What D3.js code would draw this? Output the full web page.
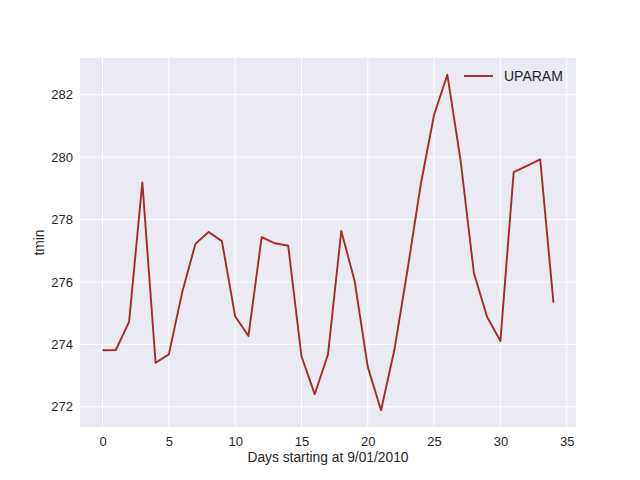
<!DOCTYPE html>
<html>
<head>
<meta charset="utf-8">
<script src="https://cdn.jsdelivr.net/npm/d3@7"></script>
<style>
  body { margin: 0; background: #fff; }
  text { font-family: "Liberation Sans", Arial, sans-serif; fill: #262626; }
</style>
</head>
<body>
<div id="chart"></div>
<script>
// daily tmin values
var days = d3.range(0, 35);
var tmin = [273.81, 273.82, 274.72, 279.19, 273.41, 273.68, 275.66, 277.22, 277.60, 277.31,
            274.90, 274.27, 277.44, 277.24, 277.16, 273.62, 272.40, 273.68, 277.63, 276.05,
            273.28, 271.89, 273.81, 276.40, 279.14, 281.36, 282.64, 279.89, 276.29, 274.88,
            274.11, 279.52, 279.72, 279.93, 275.34];
var xTicks = [0, 5, 10, 15, 20, 25, 30, 35];
var yTicks = [272, 274, 276, 278, 280, 282];
var seriesName = "UPARAM";

var width = 640, height = 480;
var margin = {top: 58, right: 64, bottom: 53, left: 80};
var w = width - margin.left - margin.right;
var h = height - margin.top - margin.bottom;

var svg = d3.select("#chart").append("svg")
  .attr("width", width)
  .attr("height", height);

var g = svg.append("g")
  .attr("transform", "translate(" + margin.left + "," + margin.top + ")");

// matplotlib style 5% margins around the data
var xMin = d3.min(days), xMax = d3.max(days);
var xPad = (xMax - xMin) * 0.05;
var yMin = d3.min(tmin), yMax = d3.max(tmin);
var yPad = (yMax - yMin) * 0.05;

var x = d3.scaleLinear().domain([xMin - xPad, xMax + xPad]).range([0, w]);
var y = d3.scaleLinear().domain([yMin - yPad, yMax + yPad]).range([h, 0]);

g.append("rect")
  .attr("width", w)
  .attr("height", h)
  .attr("fill", "#eaeaf2");

// grid
g.selectAll(".xgrid").data(xTicks).enter().append("line")
  .attr("x1", function(d) { return x(d); })
  .attr("x2", function(d) { return x(d); })
  .attr("y1", 0).attr("y2", h)
  .attr("stroke", "#fff").attr("stroke-width", 1);
g.selectAll(".ygrid").data(yTicks).enter().append("line")
  .attr("y1", function(d) { return y(d); })
  .attr("y2", function(d) { return y(d); })
  .attr("x1", 0).attr("x2", w)
  .attr("stroke", "#fff").attr("stroke-width", 1);

// axes (no spines, just labels)
var xAxis = g.append("g")
  .attr("transform", "translate(0," + h + ")")
  .call(d3.axisBottom(x).tickValues(xTicks).tickSize(0).tickPadding(10));
var yAxis = g.append("g")
  .call(d3.axisLeft(y).tickValues(yTicks).tickSize(0).tickPadding(7));
[xAxis, yAxis].forEach(function(a) {
  a.select(".domain").remove();
  a.selectAll("text")
    .attr("font-size", 13)
    .attr("font-family", "'Liberation Sans', Arial, sans-serif")
    .attr("fill", "#262626");
});

// line
var line = d3.line()
  .x(function(d, i) { return x(days[i]); })
  .y(function(d) { return y(d); });

g.append("path")
  .datum(tmin)
  .attr("d", line)
  .attr("fill", "none")
  .attr("stroke", "#a52a2a")
  .attr("stroke-width", 1.9)
  .attr("stroke-linejoin", "round");

// axis labels
svg.append("text")
  .attr("x", margin.left + w / 2)
  .attr("y", 462)
  .attr("text-anchor", "middle")
  .attr("font-size", 13.8)
  .text("Days starting at 9/01/2010");

svg.append("text")
  .attr("transform", "translate(44," + (margin.top + h / 2) + ") rotate(-90)")
  .attr("text-anchor", "middle")
  .attr("font-size", 13.8)
  .text("tmin");

// legend
var legend = svg.append("g").attr("transform", "translate(464,76)");
legend.append("line")
  .attr("x1", 0).attr("x2", 29)
  .attr("y1", 0).attr("y2", 0)
  .attr("stroke", "#a52a2a")
  .attr("stroke-width", 1.9);
legend.append("text")
  .attr("x", 40)
  .attr("y", 5)
  .attr("font-size", 14)
  .text(seriesName);
</script>
</body>
</html>
